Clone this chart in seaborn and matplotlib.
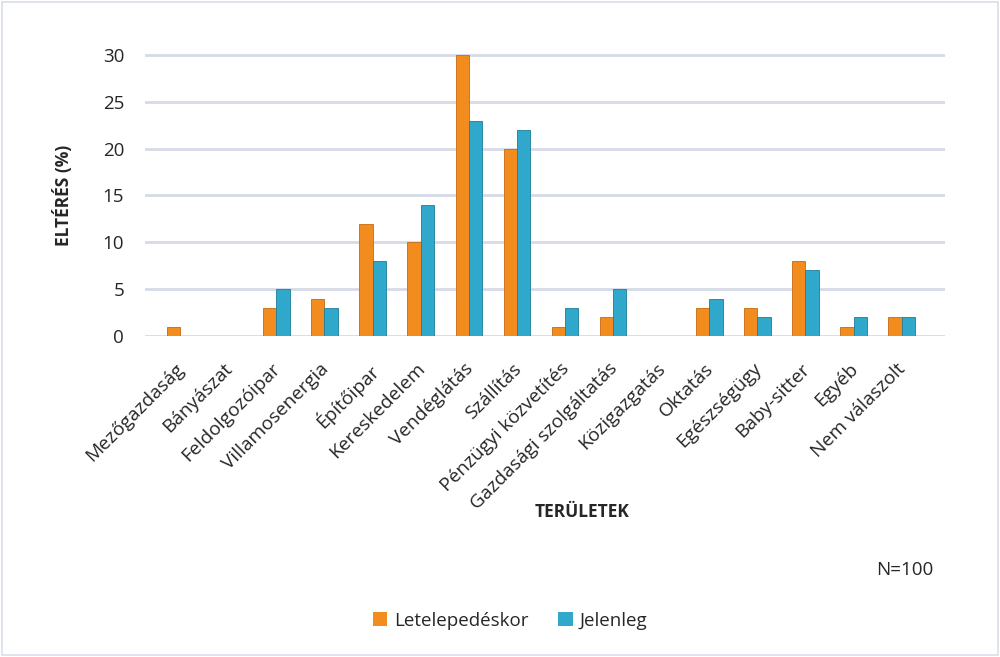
import matplotlib
matplotlib.use("Agg")
import matplotlib.pyplot as plt
import matplotlib.transforms as mtransforms
import seaborn as sns
import pandas as pd
from matplotlib.patches import Rectangle

categories = ["Mezőgazdaság", "Bányászat", "Feldolgozóipar", "Villamosenergia", "Építőipar",
              "Kereskedelem", "Vendéglátás", "Szállítás", "Pénzügyi közvetítés",
              "Gazdasági szolgáltatás", "Közigazgatás", "Oktatás", "Egészségügy",
              "Baby-sitter", "Egyéb", "Nem válaszolt"]
letelepedeskor = [1, 0, 3, 4, 12, 10, 30, 20, 1, 2, 0, 3, 3, 8, 1, 2]
jelenleg = [0, 0, 5, 3, 8, 14, 23, 22, 3, 5, 0, 4, 2, 7, 2, 2]
series_names = ["Letelepedéskor", "Jelenleg"]
yticks = [0, 5, 10, 15, 20, 25, 30]

df = pd.DataFrame({
    "Terület": categories * 2,
    "Érték": letelepedeskor + jelenleg,
    "Sorozat": [series_names[0]] * len(categories) + [series_names[1]] * len(categories),
})

sns.set_theme(style="white")
plt.rcParams['font.family'] = ['Open Sans', 'DejaVu Sans']

fig = plt.figure(figsize=(10, 6.57), dpi=100)
ax = fig.add_axes([0.145, 0.4886, 0.80, 0.432])

palette = {"Letelepedéskor": "#F28C1E", "Jelenleg": "#2FA8CC"}
sns.barplot(data=df, x="Terület", y="Érték", hue="Sorozat", palette=palette,
            width=0.55, ax=ax, saturation=1, legend=False, zorder=3)
for i, p in enumerate(ax.patches):
    ec = "#C86A10" if i < len(categories) else "#1E7E9C"
    p.set_edgecolor(ec)
    p.set_linewidth(0.6)

ax.set_xlim(-0.73, 15.9)
ax.set_ylim(0, 30.3)
ax.set_yticks(yticks)
ax.yaxis.grid(True, color="#D5DAE6", linewidth=2, zorder=0)
ax.xaxis.grid(False)
for s in ax.spines.values():
    s.set_visible(False)
ax.tick_params(axis="both", length=0)
ax.tick_params(axis="y", labelsize=13.5, pad=15)
ax.set_xticks(range(len(categories)))
ax.set_xticklabels(categories, rotation=45, ha="right", rotation_mode="anchor", fontsize=13.8)
ax.tick_params(axis="x", pad=17)
shift = mtransforms.ScaledTranslation(-5 / 100, 0, fig.dpi_scale_trans)
for lbl in ax.get_xticklabels():
    lbl.set_transform(lbl.get_transform() + shift)
ax.set_xlabel("TERÜLETEK", fontsize=12.5, fontweight="bold")
ax.xaxis.set_label_coords(0.546, -0.59)
ax.set_ylabel("ELTÉRÉS (%)", fontsize=12.5, fontweight="bold")
ax.yaxis.set_label_coords(-0.09, 0.496)

fig.text(0.905, 0.132, "N=100", fontsize=13.5, ha="center", va="center")

handles = [Rectangle((0, 0), 1, 1, facecolor=palette[n], edgecolor="none") for n in series_names]
fig.legend(handles, series_names, loc="center", bbox_to_anchor=(0.51, 0.055), ncol=2,
           frameon=False, fontsize=13.5, handlelength=0.75, handleheight=0.75,
           handletextpad=0.35, columnspacing=1.6)

fig.add_artist(Rectangle((0.002, 0.003), 0.996, 0.994, transform=fig.transFigure,
                         fill=False, edgecolor="#D9DEE8", linewidth=1.2))

fig.savefig("out.png", dpi=100, facecolor="white")
